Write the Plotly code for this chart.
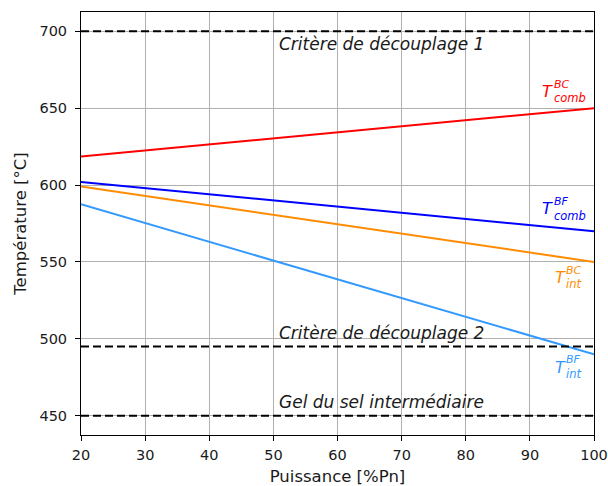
import plotly.graph_objects as go

# Data
power = [20, 100]
t_comb_bc = [618.5, 650]
t_comb_bf = [602, 570]
t_int_bc = [599, 550]
t_int_bf = [587.5, 490]

limit_levels = [700, 495, 450]
limit_labels = ["Critère de découplage 1", "Critère de découplage 2", "Gel du sel intermédiaire"]
limit_label_y = [692, 503.5, 459]

series = [
    (t_comb_bc, "#ff0000", "BC", "comb", 661.0),
    (t_comb_bf, "#0000ff", "BF", "comb", 584.5),
    (t_int_bc, "#ff8c00", "BC", "int", 540.0),
    (t_int_bf, "#3399ff", "BF", "int", 481.7),
]

FONT = "DejaVu Sans"
fig = go.Figure()

for vals, col, sup, sub, ly in series:
    fig.add_trace(go.Scatter(x=power, y=vals, mode="lines",
                             line=dict(color=col, width=2), showlegend=False))

for lvl in limit_levels:
    fig.add_trace(go.Scatter(x=[power[0], power[-1]], y=[lvl, lvl], mode="lines",
                             line=dict(color="black", width=2, dash="8px,4px"),
                             showlegend=False))

annotations = []
for txt, yy in zip(limit_labels, limit_label_y):
    annotations.append(dict(x=50.9, y=yy, text="<i>" + txt + "</i>", showarrow=False,
                            xanchor="left", yanchor="middle", borderpad=0, borderwidth=0,
                            font=dict(family=FONT, size=17, color="#1a1a1a")))

label_x = [92.8, 92.8, 94.7, 94.7]
for (vals, col, sup, sub, ly), lx in zip(series, label_x):
    annotations.append(dict(x=lx, y=ly, text="<i>T</i>", showarrow=False,
                            xanchor="center", yanchor="middle", borderpad=0, borderwidth=0,
                            font=dict(family=FONT, size=16, color=col)))
    annotations.append(dict(x=lx + 1.0, y=ly + 4.6, text="<i>" + sup + "</i>", showarrow=False,
                            xanchor="left", yanchor="middle", borderpad=0, borderwidth=0,
                            font=dict(family=FONT, size=11, color=col)))
    annotations.append(dict(x=lx + 0.9, y=ly - 4.6, text="<i>" + sub + "</i>", showarrow=False,
                            xanchor="left", yanchor="middle", borderpad=0, borderwidth=0,
                            font=dict(family=FONT, size=11.5, color=col)))

axis_common = dict(showline=True, linecolor="black", linewidth=1, mirror=True,
                   ticks="outside", ticklen=5, tickcolor="black", automargin=False,
                   showgrid=True, gridcolor="#b0b0b0", gridwidth=1, zeroline=False,
                   ticklabeloverflow="allow",
                   tickfont=dict(family=FONT, size=14.5, color="#1a1a1a"))

fig.update_layout(
    width=608, height=486,
    margin=dict(l=81, r=14, t=12, b=51),
    plot_bgcolor="white", paper_bgcolor="white",
    font=dict(family=FONT, size=15, color="#1a1a1a"),
    xaxis=dict(range=[20, 100], tickmode="array", tickvals=list(range(20, 101, 10)),
               ticklabelstandoff=2,
               title=dict(text="Puissance [%Pn]", font=dict(family=FONT, size=16.5), standoff=9),
               **axis_common),
    yaxis=dict(range=[437.5, 712.5], tickmode="array", tickvals=[450, 500, 550, 600, 650, 700],
               ticklabelstandoff=5,
               title=dict(text="Température [°C]", font=dict(family=FONT, size=16.5), standoff=8),
               **axis_common),
    annotations=annotations,
)

# remove the default 8 px page margin so the figure fills the window exactly
fig.write_html("out.html", config={"displayModeBar": False},
               post_script="document.body.style.margin='0';document.body.style.overflow='hidden';")
